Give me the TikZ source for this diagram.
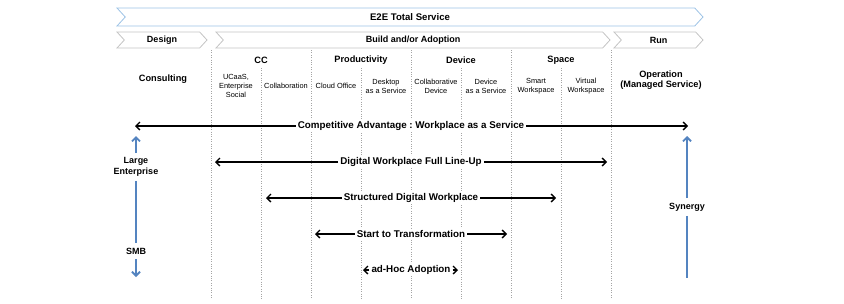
\documentclass[tikz,border=0pt]{standalone}
\usepackage{fontspec}
\setmainfont{Liberation Sans}
\usepackage{tikz}
\usetikzlibrary{arrows.meta,positioning,shapes.symbols}
\definecolor{barblue}{RGB}{157,195,230}
\definecolor{bargrey}{RGB}{196,196,196}
\definecolor{tierblue}{RGB}{84,132,192}
\definecolor{gridgrey}{RGB}{165,165,165}
\frenchspacing

\begin{document}
\begin{tikzpicture}[x=1pt,y=-1pt,
  phase/.style={signal,signal from=west,signal to=east,signal pointer angle=95,draw=bargrey,fill=white,line width=0.8pt,inner sep=0pt,minimum height=16pt,font=\fontsize{9}{10}\selectfont\bfseries},
  head/.style={font=\fontsize{9.2}{10.5}\selectfont\bfseries,inner sep=1pt},
  item/.style={font=\fontsize{7.4}{9}\selectfont,align=center,inner sep=1pt},
  span/.style={fill=white,font=\fontsize{9.8}{11}\selectfont\bfseries,inner xsep=2pt,inner ysep=1pt},
  reach/.style={line width=1.4pt,-{Straight Barb[length=4pt,width=8pt]}},
  tier/.style={font=\fontsize{9}{10.5}\selectfont\bfseries,align=center,inner xsep=1pt,inner ysep=4.5pt},
  tierline/.style={tierblue,line width=1.8pt}]
\useasboundingbox (0,0) rectangle (844,303);
\foreach \x in {211,311,411,511,611}{\draw[gridgrey,dotted] (\x,50) -- (\x,299);}
\foreach \x in {261,361,461,561}{\draw[gridgrey,dotted] (\x,68) -- (\x,299);}
% phases
\node[phase,draw=barblue,minimum width=586pt,minimum height=18pt,font=\fontsize{9.6}{11}\selectfont\bfseries] (e2e) at (410,17) {E2E Total Service};
\node[phase,minimum width=90pt] (design) at (162,40) {Design};
\node[phase,minimum width=394pt] (build) at (413,40) {Build and/or Adoption};
\node[phase,minimum width=89pt] (run) at (658.5,40) {Run};
\foreach \x/\t in {261/CC,361/Productivity,461/Device,561/Space}{
  \node[head] (\t) at (\x,60) {\t};
}
\foreach \i/\x/\t in {0/236/{UCaaS,\\Enterprise\\Social},1/286/Collaboration,2/336/Cloud Office,3/386/{Desktop\\as a Service},
  4/436/{Collaborative\\Device},5/486/{Device\\as a Service},6/536/{Smart\\Workspace},7/586/{Virtual\\Workspace}}{
  \node[item] (item\i) at (\x,86) {\t};
}
\node[head] (consulting) at (163,79) {Consulting};
\node[head,align=center] (operation) at (661,80) {Operation\\(Managed Service)};
% offering range
\foreach \y/\l/\r/\t/\n in {126/135/688/{Competitive Advantage : Workplace as a Service}/waas,
  162/215/607/{Digital Workplace Full Line-Up}/lineup,198/266/556/{Structured Digital Workplace}/structured,
  234/315/507/{Start to Transformation}/transform,270/363/458/{ad-Hoc Adoption}/adhoc}{
  \node[span] (\n) at (411,\y) {\t};
  \coordinate (\n L) at (\l,\y);
  \coordinate (\n R) at (\r,\y);
  \draw[reach] (\n) -- (\n L);
  \draw[reach] (\n) -- (\n R);
}
% customer tiers
\node[tier] (large) at (136,167) {Large\\Enterprise};
\node[tier] (smb) at (136,251) {SMB};
\node[tier] (synergy) at (687,207) {Synergy};
\coordinate (largetop) at (136,136);
\coordinate (smbbottom) at (136,277);
\coordinate (synergytop) at (687,136);
\coordinate (synergybottom) at (687,278);
\draw[tierline,-{Straight Barb[length=4pt,width=8pt]}] (large) -- (largetop);
\draw[tierline] (large) -- (smb);
\draw[tierline,-{Straight Barb[length=4pt,width=8pt]}] (smb) -- (smbbottom);
\draw[tierline,-{Straight Barb[length=4pt,width=8pt]}] (synergy) -- (synergytop);
\draw[tierline] (synergy) -- (synergybottom);
\end{tikzpicture}
\end{document}
